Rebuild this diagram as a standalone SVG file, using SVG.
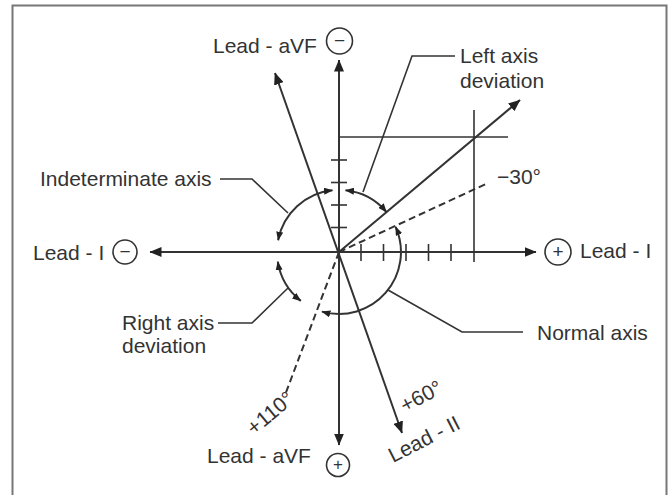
<svg xmlns="http://www.w3.org/2000/svg" width="669" height="495" viewBox="0 0 669 495">
<style>
.ln{stroke:#333;stroke-width:2;fill:none}
.th{stroke:#333;stroke-width:1.6;fill:none}
.ds{stroke:#333;stroke-width:2;fill:none;stroke-dasharray:7 4}
.arc{stroke:#333;stroke-width:2;fill:none;marker-start:url(#sa);marker-end:url(#sa)}
.ax{marker-start:url(#ah);marker-end:url(#ah)}
.ae{marker-end:url(#ah)}
text{font-family:"Liberation Sans",Arial,sans-serif;font-size:21px;fill:#333}
.sg{font-size:19px;text-anchor:middle;dominant-baseline:central}
.sym{stroke:#333;stroke-width:1.6;fill:#fff}
</style>
<defs>
<marker id="ah" viewBox="0 0 12 10" refX="11.5" refY="5" markerWidth="12" markerHeight="10" orient="auto-start-reverse" markerUnits="userSpaceOnUse"><path d="M0,0 L12,5 L0,10 z" fill="#222"/></marker>
<marker id="sa" viewBox="0 0 9 7" refX="8.5" refY="3.5" markerWidth="9" markerHeight="7" orient="auto-start-reverse" markerUnits="userSpaceOnUse"><path d="M0,0 L9,3.5 L0,7 z" fill="#222"/></marker>
</defs>
<rect width="669" height="495" fill="#fff"/>
<path d="M12.5 496 V5.5 H666.5 V496" fill="none" stroke="#777" stroke-width="2"/>

<g id="connectors">
<!-- axes -->
<line class="ln ax" x1="150" y1="252" x2="536" y2="252"/>
<line class="ln ax" x1="339" y1="60" x2="339" y2="445"/>
<line class="ln ax" x1="275" y1="73" x2="402" y2="433"/>
<line class="ln ae" x1="339" y1="252" x2="520" y2="100"/>
<line class="ds" x1="339" y1="252" x2="488" y2="183"/>
<line class="ds" x1="339" y1="252" x2="285" y2="395"/>
<!-- grid lines -->
<line class="th" x1="339" y1="137" x2="508" y2="137"/>
<line class="th" x1="474" y1="110" x2="474" y2="262"/>
<!-- ticks -->
<g class="th">
<line x1="361" y1="244" x2="361" y2="261"/>
<line x1="383.5" y1="244" x2="383.5" y2="261"/>
<line x1="406" y1="244" x2="406" y2="261"/>
<line x1="428.5" y1="244" x2="428.5" y2="261"/>
<line x1="451" y1="244" x2="451" y2="261"/>
<line x1="331" y1="160" x2="347" y2="160"/>
<line x1="331" y1="182.5" x2="347" y2="182.5"/>
<line x1="331" y1="205" x2="347" y2="205"/>
<line x1="331" y1="227.5" x2="347" y2="227.5"/>
</g>
<!-- arcs -->
<path class="arc" d="M332.5 190.3 A62 62 0 0 0 278.1 240.2"/>
<path class="arc" d="M345.5 190.3 A62 62 0 0 1 386.5 212.1"/>
<path class="arc" d="M395.6 226.8 A62 62 0 0 1 321.9 311.6"/>
<path class="arc" d="M277.8 261.7 A62 62 0 0 0 300.8 300.9"/>
<!-- leaders -->
<polyline class="th" points="455,56 412,56 363,192"/>
<polyline class="th" points="220,179 252,179 288,213"/>
<polyline class="th" points="218,323 252,323 288,288"/>
<polyline class="th" points="388,290 462,332 523,332"/>
</g>

<g id="lead-avf-neg">
<text x="213" y="53">Lead - aVF</text>
<circle class="sym" cx="339.5" cy="41" r="13"/>
<text class="sg" x="339.5" y="40">−</text>
</g>
<g id="lead-avf-pos">
<text x="207" y="463">Lead - aVF</text>
<circle class="sym" cx="338" cy="465" r="11.5"/>
<text class="sg" x="338" y="464.5" style="font-size:17px">+</text>
</g>
<g id="lead-i-neg">
<text x="33" y="260">Lead - I</text>
<circle class="sym" cx="125" cy="252" r="12"/>
<text class="sg" x="125" y="251">−</text>
</g>
<g id="lead-i-pos">
<circle class="sym" cx="558" cy="252" r="13"/>
<text class="sg" x="558" y="251">+</text>
<text x="580" y="258">Lead - I</text>
</g>
<g id="lead-ii">
<text transform="translate(393,463) rotate(-27)">Lead - II</text>
<text transform="translate(405,413) rotate(-28)">+60°</text>
</g>
<g id="plus110">
<text transform="translate(254,436) rotate(-40)">+110°</text>
</g>
<g id="minus30">
<text x="497" y="184">−30°</text>
</g>
<g id="left-axis">
<text x="460" y="63">Left axis</text>
<text x="460" y="88">deviation</text>
</g>
<g id="indeterminate">
<text x="40" y="186">Indeterminate axis</text>
</g>
<g id="right-axis">
<text x="122" y="330">Right axis</text>
<text x="122" y="353">deviation</text>
</g>
<g id="normal-axis">
<text x="537" y="340">Normal axis</text>
</g>
</svg>
